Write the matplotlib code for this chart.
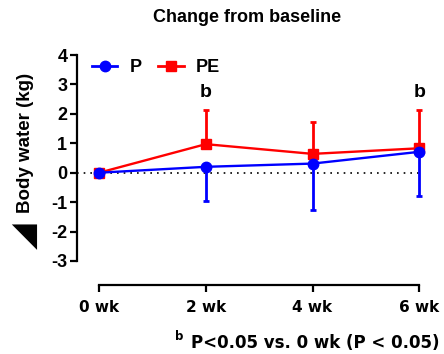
import matplotlib
matplotlib.use("Agg")
import matplotlib.pyplot as plt
from matplotlib.lines import Line2D

weeks = [0, 2, 4, 6]
week_labels = ["0 wk", "2 wk", "4 wk", "6 wk"]
p_mean = [0.0, 0.2, 0.31, 0.71]
p_err_low = [0.0, 1.17, 1.59, 1.50]
pe_mean = [0.0, 0.97, 0.64, 0.83]
pe_err_up = [0.0, 1.16, 1.09, 1.30]
sig_weeks = [2, 6]
sig_label = "b"
yticks = [-3, -2, -1, 0, 1, 2, 3, 4]

plt.rcParams['font.family'] = ['Liberation Sans', 'DejaVu Sans']

W, H = 444, 354
fig = plt.figure(figsize=(4.44, 3.54), dpi=100)
ax = fig.add_axes([77/W, 1-285/H, (430-77)/W, (285-55)/H])
ax.set_xlim(-0.4125, 6.2)
ax.set_ylim(-3.816, 4.0)

ax.axhline(0, color='black', lw=1.2, ls=(0, (1, 3)), zorder=1, xmax=(6+0.4125)/6.6125)

blue = '#0000ff'
red = '#ff0000'
ax.errorbar(weeks, pe_mean, yerr=[[0]*4, pe_err_up], color=red, lw=1.7, marker='s', ms=7,
            capsize=2.3, capthick=2, elinewidth=2, zorder=3)
ax.errorbar(weeks, p_mean, yerr=[p_err_low, [0]*4], color=blue, lw=1.7, marker='o', ms=7.5,
            capsize=2.3, capthick=2, elinewidth=2, zorder=4)

for w in sig_weeks:
    ax.text(w, 2.72, sig_label, ha='center', va='center', fontsize=14, fontweight='bold')

ax.spines['top'].set_visible(False)
ax.spines['right'].set_visible(False)
ax.spines['left'].set_bounds(-3, 4)
ax.spines['bottom'].set_bounds(0, 6)
ax.spines['left'].set_linewidth(1.6)
ax.spines['bottom'].set_linewidth(1.6)

ax.set_yticks(yticks)
ax.set_yticklabels([str(t) for t in yticks], fontsize=13, fontweight='bold')
ax.set_xticks(weeks)
ax.set_xticklabels(week_labels, fontsize=11, fontweight='bold', family='DejaVu Sans')
ax.tick_params(axis='both', width=1.6, length=5, pad=2)
ax.tick_params(axis='x', pad=6)

fig.text(25/W, 1-142.5/H, "Body water (kg)", rotation=90, ha='center', va='center',
         fontsize=13.5, fontweight='bold')
fig.text(24/W, 1-236/H, "\u25E2", rotation=90, ha='center', va='center',
         fontsize=24, family='DejaVu Sans')

handles = [Line2D([], [], color=blue, lw=2, marker='o', ms=7.5),
           Line2D([], [], color=red, lw=2, marker='s', ms=7)]
ax.legend(handles, ['P', 'PE'], loc='center left', ncol=2, frameon=False,
          prop={'weight': 'bold', 'size': 13}, bbox_to_anchor=((92-77)/353, (285-68)/230),
          borderpad=0, borderaxespad=0, handlelength=1.4, columnspacing=0.9,
          handletextpad=0.7)

fig.text(247.5/W, 1-18/H, "Change from baseline", ha='center', va='center',
         fontsize=13, fontweight='bold')
fig.text(179/W, 1-337/H, "b", ha='center', va='center', fontsize=8.5,
         fontweight='bold', family='DejaVu Sans')
fig.text(439/W, 1-343/H, "P<0.05 vs. 0 wk (P < 0.05)", ha='right', va='center',
         fontsize=12, fontweight='bold', family='DejaVu Sans')

fig.savefig("out.png", dpi=100)
